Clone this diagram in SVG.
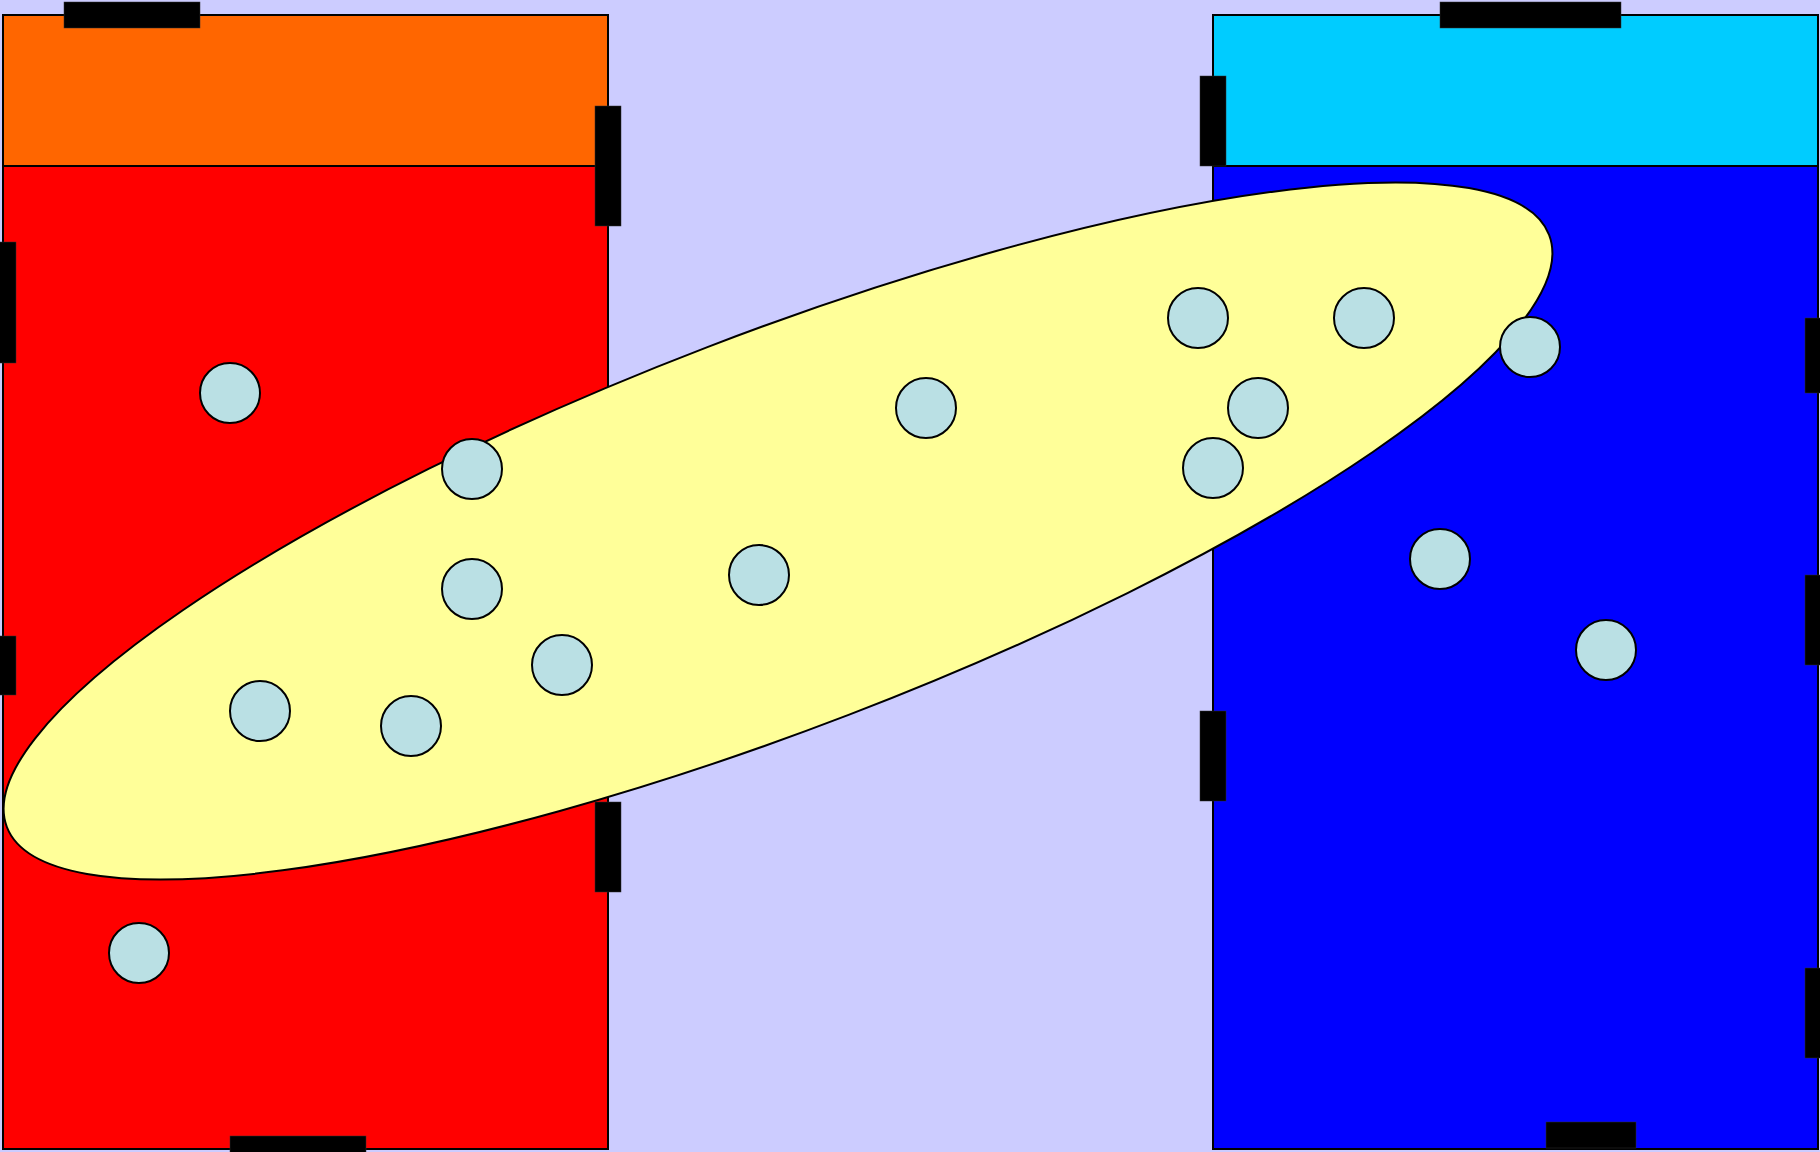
<svg xmlns="http://www.w3.org/2000/svg" width="1820" height="1152" viewBox="0 0 1820 1152">
  <style>
    .wall { stroke: #000; stroke-width: 2; }
    .bar { fill: #000; stroke: #333; stroke-width: 0.5; }
    .dot { fill: #BAE0E4; stroke: #000; stroke-width: 2; }
    .zone { fill: #FFFF99; stroke: #000; stroke-width: 2; }
  </style>
  <rect x="0" y="0" width="1820" height="1152" fill="#CCCCFF"/>

  <g id="building-left">
    <rect class="wall" x="3" y="15" width="605" height="1134" fill="#FF0000"/>
    <rect class="wall" x="3" y="15" width="605" height="151" fill="#FF6600"/>
  </g>
  <g id="building-right">
    <rect class="wall" x="1213" y="15" width="605" height="1134" fill="#0000FF"/>
    <rect class="wall" x="1213" y="15" width="605" height="151" fill="#00CCFF"/>
  </g>

  <g id="openings-left">
    <rect class="bar" x="64" y="2" width="136" height="26"/>
    <rect class="bar" x="595" y="106" width="26" height="120"/>
    <rect class="bar" x="-10" y="242" width="26" height="121"/>
    <rect class="bar" x="-10" y="636" width="26" height="59"/>
    <rect class="bar" x="595" y="802" width="26" height="90"/>
    <rect class="bar" x="230" y="1136" width="136" height="26"/>
  </g>
  <g id="openings-right">
    <rect class="bar" x="1440" y="2" width="181" height="26"/>
    <rect class="bar" x="1200" y="76" width="26" height="90"/>
    <rect class="bar" x="1200" y="711" width="26" height="90"/>
    <rect class="bar" x="1805" y="318" width="26" height="75"/>
    <rect class="bar" x="1805" y="575" width="26" height="90"/>
    <rect class="bar" x="1805" y="968" width="26" height="90"/>
    <rect class="bar" x="1546" y="1122" width="90" height="26"/>
  </g>

  <g id="zone">
    <ellipse class="zone" cx="778" cy="531" rx="826" ry="197" transform="rotate(-21 778 531)"/>
  </g>

  <g id="points">
    <circle id="p1" class="dot" cx="230" cy="393" r="30"/>
    <circle id="p2" class="dot" cx="472" cy="469" r="30"/>
    <circle id="p3" class="dot" cx="472" cy="589" r="30"/>
    <circle id="p4" class="dot" cx="562" cy="665" r="30"/>
    <circle id="p5" class="dot" cx="260" cy="711" r="30"/>
    <circle id="p6" class="dot" cx="411" cy="726" r="30"/>
    <circle id="p7" class="dot" cx="139" cy="953" r="30"/>
    <circle id="p8" class="dot" cx="759" cy="575" r="30"/>
    <circle id="p9" class="dot" cx="926" cy="408" r="30"/>
    <circle id="p10" class="dot" cx="1198" cy="318" r="30"/>
    <circle id="p11" class="dot" cx="1364" cy="318" r="30"/>
    <circle id="p12" class="dot" cx="1258" cy="408" r="30"/>
    <circle id="p13" class="dot" cx="1213" cy="468" r="30"/>
    <circle id="p14" class="dot" cx="1530" cy="347" r="30"/>
    <circle id="p15" class="dot" cx="1440" cy="559" r="30"/>
    <circle id="p16" class="dot" cx="1606" cy="650" r="30"/>
  </g>
</svg>
